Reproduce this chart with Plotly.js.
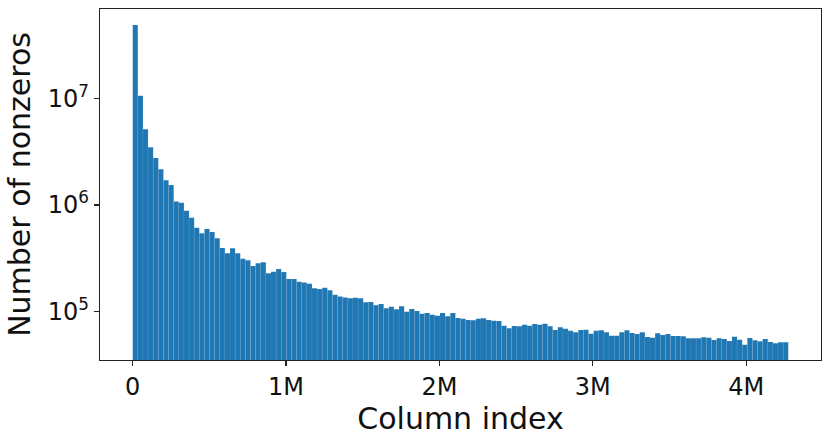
<!DOCTYPE html>
<html>
<head>
<meta charset="utf-8">
<script src="https://cdn.plot.ly/plotly-3.0.1.min.js"></script>
<style>
    html, body { margin: 0; padding: 0; background: #fff; }
    #graph { width: 830px; height: 439px; }
</style>
</head>
<body>
<div id="graph"></div>
<script>
// Гистограмма: число ненулевых элементов по индексу столбца
const maxColumn = 4274700;
const nBins = 128;

const nonzeros = [
    4.93e7, 1.067e7, 5.15e6, 3.49e6, 2.77e6, 2.17e6, 1.71e6, 1.54e6,
    1.08e6, 1.05e6, 8.84e5, 7.60e5, 6.11e5, 5.42e5, 5.95e5, 5.57e5,
    4.86e5, 3.94e5, 3.51e5, 3.91e5, 3.51e5, 3.12e5, 3.02e5, 2.67e5,
    2.83e5, 2.89e5, 2.28e5, 2.36e5, 2.50e5, 2.34e5, 2.01e5, 2.01e5,
    1.90e5, 1.87e5, 1.82e5, 1.65e5, 1.62e5, 1.67e5, 1.58e5, 1.43e5,
    1.38e5, 1.35e5, 1.325e5, 1.34e5, 1.325e5, 1.215e5, 1.223e5, 1.139e5,
    1.171e5, 1.067e5, 1.105e5, 1.044e5, 1.114e5, 9.91e4, 1.051e5, 1.006e5,
    9.49e4, 9.64e4, 9.29e4, 9.09e4, 9.64e4, 8.97e4, 9.64e4, 8.65e4,
    8.52e4, 8.28e4, 8.23e4, 8.52e4, 8.59e4, 8.28e4, 8.16e4, 8.10e4,
    7.32e4, 6.92e4, 7.27e4, 7.22e4, 7.48e4, 7.32e4, 7.59e4, 7.48e4,
    7.64e4, 7.22e4, 6.67e4, 7.07e4, 6.86e4, 6.57e4, 6.34e4, 6.67e4,
    6.71e4, 6.16e4, 6.57e4, 6.63e4, 6.34e4, 5.90e4, 5.90e4, 6.34e4,
    6.63e4, 6.25e4, 6.11e4, 6.34e4, 5.73e4, 5.65e4, 6.21e4, 5.98e4,
    6.11e4, 5.86e4, 5.86e4, 5.82e4, 5.57e4, 5.57e4, 5.57e4, 5.69e4,
    5.65e4, 5.37e4, 5.57e4, 5.49e4, 5.26e4, 5.77e4, 5.41e4, 4.85e4,
    5.61e4, 5.34e4, 5.22e4, 5.49e4, 5.14e4, 5.00e4, 5.11e4, 5.11e4
];

const xTickVals = [0, 1e6, 2e6, 3e6, 4e6];
const xTickText = ['0', '1M', '2M', '3M', '4M'];
const yTickVals = [1e5, 1e6, 1e7];
const yTickText = ['10<sup>5</sup>', '10<sup>6</sup>', '10<sup>7</sup>'];

const binWidth = maxColumn / nBins;
const centers = nonzeros.map((_, i) => (i + 0.5) * binWidth);

const trace = {
    type: 'bar',
    x: centers,
    y: nonzeros,
    width: binWidth,
    marker: {
        color: '#1f77b4',
        line: { color: 'rgba(255,255,255,0.12)', width: 0.5 }
    },
    hoverinfo: 'x+y'
};

const axisStyle = {
    showline: true,
    linecolor: '#222',
    linewidth: 1.2,
    mirror: true,
    ticks: 'outside',
    ticklen: 5,
    tickwidth: 1.2,
    tickcolor: '#222',
    showgrid: false,
    zeroline: false,
    tickfont: { family: 'DejaVu Sans', size: 24, color: '#111' }
};

const layout = {
    width: 830,
    height: 439,
    margin: { l: 100, r: 9, t: 9, b: 79 },
    paper_bgcolor: '#fff',
    plot_bgcolor: '#fff',
    bargap: 0,
    showlegend: false,
    xaxis: Object.assign({}, axisStyle, {
        range: [-0.2133e6, 4.488e6],
        tickvals: xTickVals,
        ticktext: xTickText,
        title: { text: 'Column index', font: { family: 'DejaVu Sans', size: 30, color: '#111' }, standoff: 3 }
    }),
    yaxis: Object.assign({}, axisStyle, {
        type: 'log',
        range: [4.542, 7.844],
        tickvals: yTickVals,
        ticktext: yTickText,
        title: { text: 'Number of nonzeros', font: { family: 'DejaVu Sans', size: 30, color: '#111' }, standoff: 8 }
    })
};

Plotly.newPlot('graph', [trace], layout, { displayModeBar: false, staticPlot: true });
</script>
</body>
</html>
